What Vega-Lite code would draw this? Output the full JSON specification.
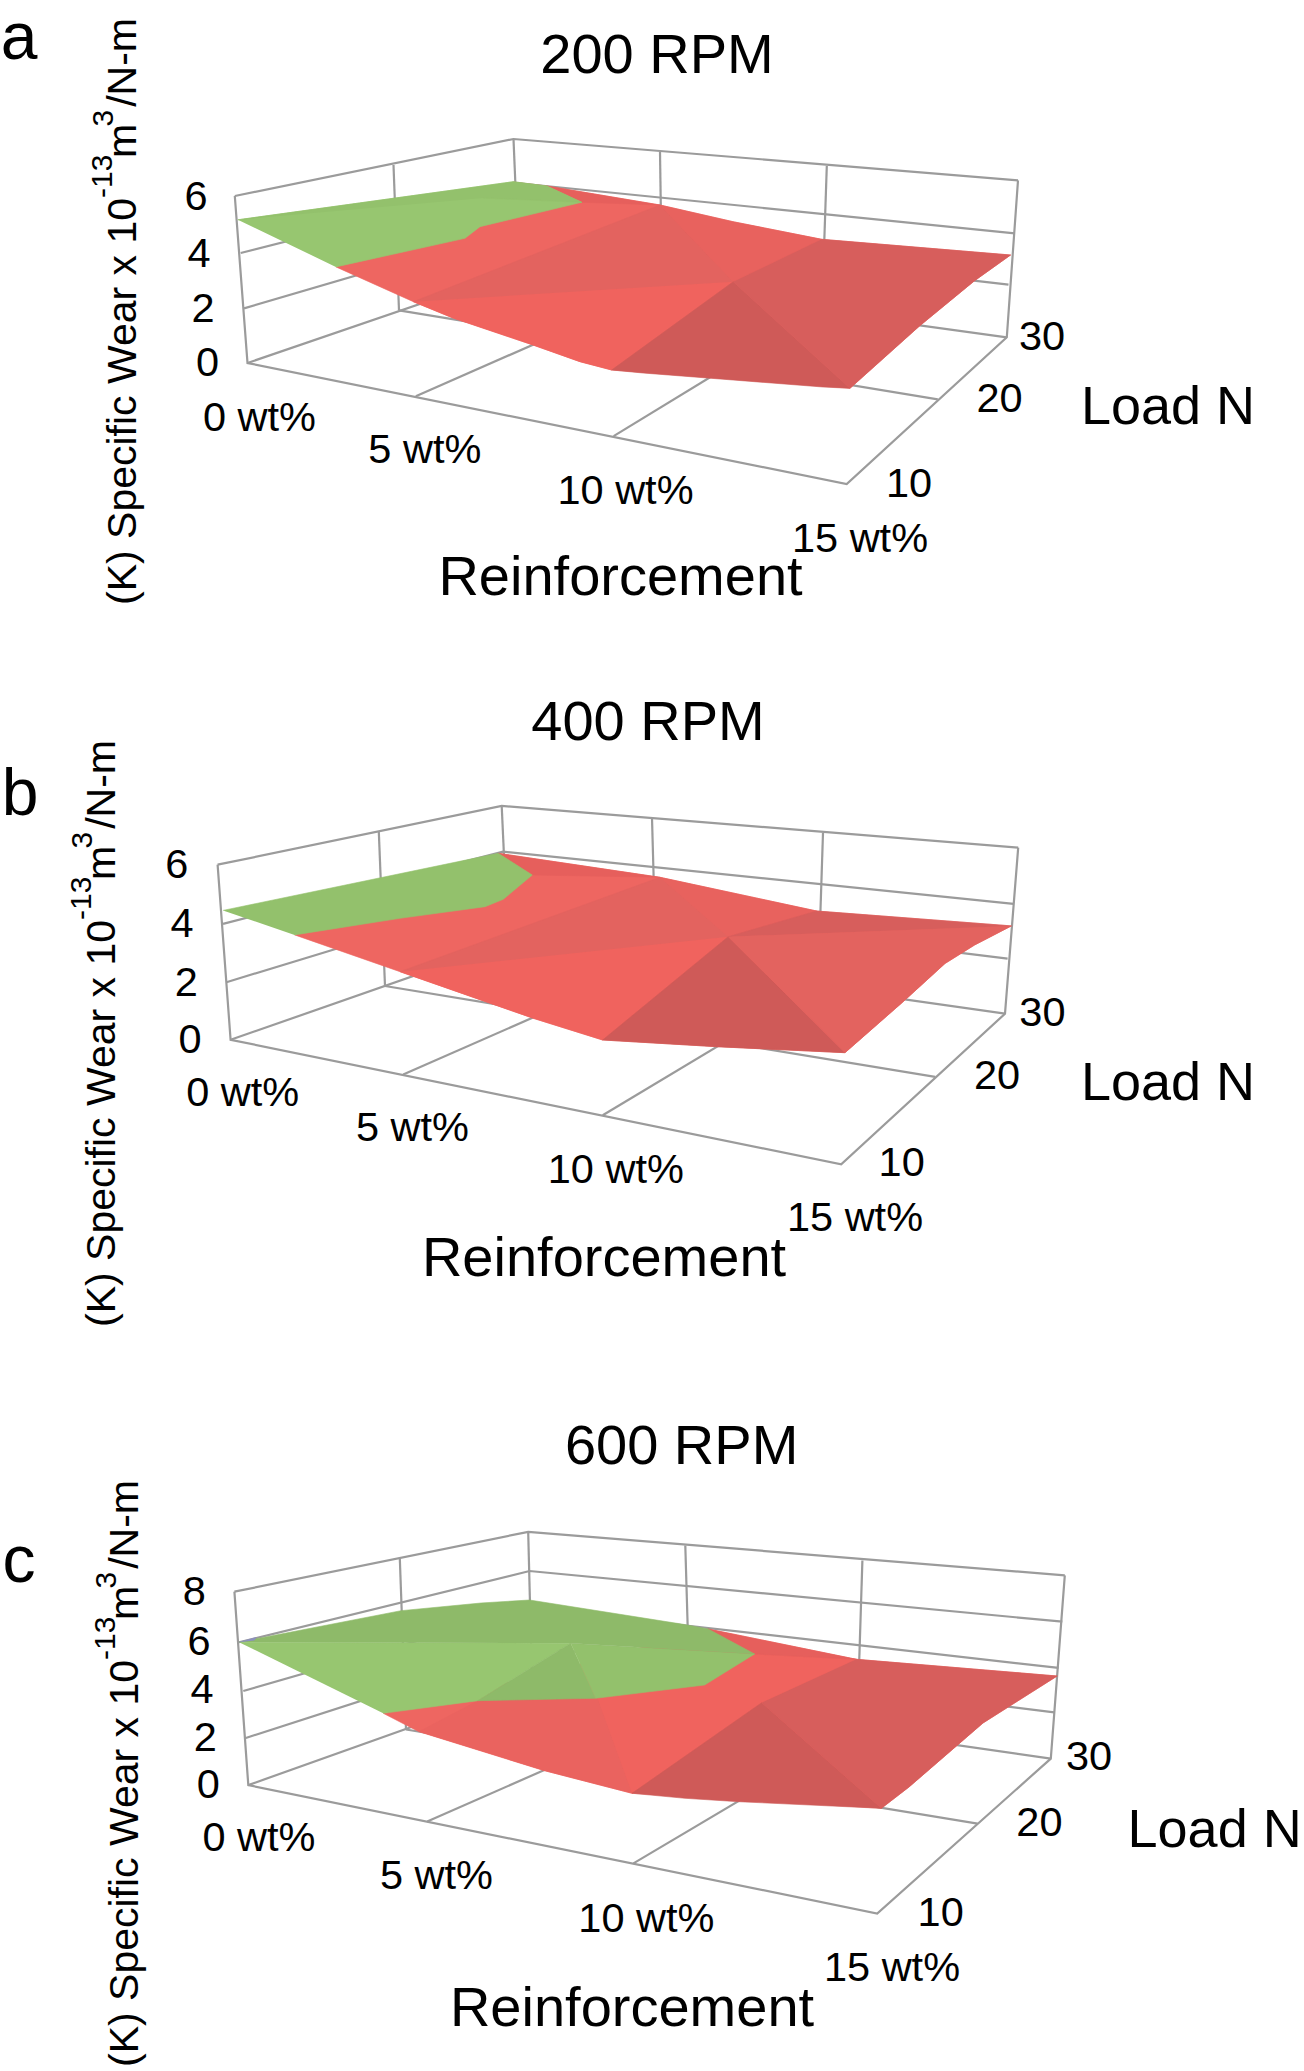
{"$schema":"https://vega.github.io/schema/vega-lite/v6.json","width":1304,"height":2071,"autosize":{"type":"fit","contains":"padding"},"padding":0,"background":"white","config":{"view":{"stroke":null}},
"datasets":{
"grid":[
{"l":"a1","o":1,"x":234.8,"y":196},{"l":"a1","o":2,"x":513.5,"y":139},{"l":"a1","o":3,"x":1018,"y":180.3},
{"l":"a2","o":1,"x":234.8,"y":196},{"l":"a2","o":2,"x":247.5,"y":363},{"l":"a2","o":3,"x":846.7,"y":484},{"l":"a2","o":4,"x":1006.8,"y":337.3},{"l":"a2","o":5,"x":1018,"y":180.3},
{"l":"a3","o":1,"x":513.5,"y":139},{"l":"a3","o":2,"x":519,"y":270},
{"l":"a4","o":1,"x":247.5,"y":363},{"l":"a4","o":2,"x":519,"y":270},{"l":"a4","o":3,"x":1006.8,"y":337.3},
{"l":"a5","o":1,"x":393.5,"y":165},{"l":"a5","o":2,"x":399,"y":310.4},
{"l":"a6","o":1,"x":660,"y":152},{"l":"a6","o":2,"x":662,"y":288},
{"l":"a7","o":1,"x":826.8,"y":166},{"l":"a7","o":2,"x":822,"y":309},
{"l":"a8","o":1,"x":240.7,"y":253},{"l":"a8","o":2,"x":516,"y":183},{"l":"a8","o":3,"x":1014.8,"y":233.3},
{"l":"a9","o":1,"x":244,"y":308.4},{"l":"a9","o":2,"x":518,"y":228},{"l":"a9","o":3,"x":1008.5,"y":284.7},
{"l":"a10","o":1,"x":415.8,"y":396.2},{"l":"a10","o":2,"x":662,"y":288},
{"l":"a11","o":1,"x":613.6,"y":436.1},{"l":"a11","o":2,"x":822,"y":309},
{"l":"a12","o":1,"x":399,"y":310.4},{"l":"a12","o":2,"x":937.8,"y":399.4},
{"l":"b1","o":1,"x":217.6,"y":864.7},{"l":"b1","o":2,"x":501.7,"y":805.9},{"l":"b1","o":3,"x":1018.2,"y":847.6},
{"l":"b2","o":1,"x":217.6,"y":864.7},{"l":"b2","o":2,"x":230.6,"y":1039.8},{"l":"b2","o":3,"x":841.2,"y":1164.3},{"l":"b2","o":4,"x":1005,"y":1013.7},{"l":"b2","o":5,"x":1018.2,"y":847.6},
{"l":"b3","o":1,"x":501.7,"y":805.9},{"l":"b3","o":2,"x":508,"y":943},
{"l":"b4","o":1,"x":230.6,"y":1039.8},{"l":"b4","o":2,"x":508,"y":943},{"l":"b4","o":3,"x":1005,"y":1013.7},
{"l":"b5","o":1,"x":378.8,"y":831.6},{"l":"b5","o":2,"x":385,"y":986},
{"l":"b6","o":1,"x":652,"y":818},{"l":"b6","o":2,"x":656,"y":963.5},
{"l":"b7","o":1,"x":823,"y":832.9},{"l":"b7","o":2,"x":818,"y":986},
{"l":"b8","o":1,"x":223,"y":923.9},{"l":"b8","o":2,"x":503,"y":851.7},{"l":"b8","o":3,"x":1013.6,"y":903.9},
{"l":"b9","o":1,"x":226.4,"y":982.2},{"l":"b9","o":2,"x":506,"y":897},{"l":"b9","o":3,"x":1007.6,"y":958.6},
{"l":"b10","o":1,"x":403.2,"y":1074.5},{"l":"b10","o":2,"x":656,"y":963.5},
{"l":"b11","o":1,"x":602.7,"y":1115.3},{"l":"b11","o":2,"x":818,"y":986},
{"l":"b12","o":1,"x":385,"y":986},{"l":"b12","o":2,"x":935.2,"y":1076.9},
{"l":"c1","o":1,"x":234.4,"y":1591.7},{"l":"c1","o":2,"x":528.2,"y":1531.8},{"l":"c1","o":3,"x":1064.8,"y":1575.4},
{"l":"c2","o":1,"x":234.4,"y":1591.7},{"l":"c2","o":2,"x":248.3,"y":1785.1},{"l":"c2","o":3,"x":877.2,"y":1913.5},{"l":"c2","o":4,"x":1050.8,"y":1758.6},{"l":"c2","o":5,"x":1064.8,"y":1575.4},
{"l":"c3","o":1,"x":528.2,"y":1531.8},{"l":"c3","o":2,"x":532,"y":1684},
{"l":"c4","o":1,"x":248.3,"y":1785.1},{"l":"c4","o":2,"x":532,"y":1684},{"l":"c4","o":3,"x":1050.8,"y":1758.6},
{"l":"c5","o":1,"x":399.8,"y":1558.3},{"l":"c5","o":2,"x":406,"y":1729.5},
{"l":"c6","o":1,"x":685.3,"y":1545.5},{"l":"c6","o":2,"x":690,"y":1706},
{"l":"c7","o":1,"x":862.4,"y":1560.5},{"l":"c7","o":2,"x":857,"y":1731},
{"l":"c8","o":1,"x":239,"y":1642.2},{"l":"c8","o":2,"x":529.5,"y":1571},{"l":"c8","o":3,"x":1062.3,"y":1621.7},
{"l":"c9","o":1,"x":243.3,"y":1691},{"l":"c9","o":2,"x":531,"y":1608},{"l":"c9","o":3,"x":1058.5,"y":1667.9},
{"l":"c10","o":1,"x":245.8,"y":1738},{"l":"c10","o":2,"x":531,"y":1646},{"l":"c10","o":3,"x":1054.2,"y":1712.4},
{"l":"c11","o":1,"x":427.2,"y":1821.5},{"l":"c11","o":2,"x":690,"y":1706},
{"l":"c12","o":1,"x":633.4,"y":1863.4},{"l":"c12","o":2,"x":857,"y":1731},
{"l":"c13","o":1,"x":406,"y":1729.5},{"l":"c13","o":2,"x":977.6,"y":1823.6}
],
"surface":[
{"f":"a01","s":"redBase","o":1,"x":335.9,"y":266.9},{"f":"a01","s":"redBase","o":2,"x":413.3,"y":301.7},{"f":"a01","s":"redBase","o":3,"x":453,"y":318},{"f":"a01","s":"redBase","o":4,"x":533,"y":345},{"f":"a01","s":"redBase","o":5,"x":580,"y":361.7},{"f":"a01","s":"redBase","o":6,"x":611.7,"y":370},{"f":"a01","s":"redBase","o":7,"x":850,"y":388.3},{"f":"a01","s":"redBase","o":8,"x":919.5,"y":326},{"f":"a01","s":"redBase","o":9,"x":974.6,"y":280.7},{"f":"a01","s":"redBase","o":10,"x":1010.6,"y":255},{"f":"a01","s":"redBase","o":11,"x":821.7,"y":239.3},{"f":"a01","s":"redBase","o":12,"x":733,"y":221.7},{"f":"a01","s":"redBase","o":13,"x":660,"y":205},{"f":"a01","s":"redBase","o":14,"x":546.7,"y":186},{"f":"a01","s":"redBase","o":15,"x":513,"y":182},
{"f":"a02","s":"redLight","o":1,"x":413.3,"y":301.7},{"f":"a02","s":"redLight","o":2,"x":453,"y":318},{"f":"a02","s":"redLight","o":3,"x":533,"y":345},{"f":"a02","s":"redLight","o":4,"x":580,"y":361.7},{"f":"a02","s":"redLight","o":5,"x":611.7,"y":370},{"f":"a02","s":"redLight","o":6,"x":733.3,"y":281.7},
{"f":"a03","s":"redMid","o":1,"x":413.3,"y":301.7},{"f":"a03","s":"redMid","o":2,"x":660,"y":205},{"f":"a03","s":"redMid","o":3,"x":733.3,"y":281.7},
{"f":"a04","s":"redUpper","o":1,"x":660,"y":205},{"f":"a04","s":"redUpper","o":2,"x":733,"y":221.7},{"f":"a04","s":"redUpper","o":3,"x":821.7,"y":239.3},{"f":"a04","s":"redUpper","o":4,"x":733.3,"y":281.7},
{"f":"a05","s":"redDarkest","o":1,"x":733.3,"y":281.7},{"f":"a05","s":"redDarkest","o":2,"x":611.7,"y":370},{"f":"a05","s":"redDarkest","o":3,"x":643,"y":373},{"f":"a05","s":"redDarkest","o":4,"x":733,"y":380},{"f":"a05","s":"redDarkest","o":5,"x":823,"y":387},{"f":"a05","s":"redDarkest","o":6,"x":850,"y":388.3},
{"f":"a06","s":"redDark","o":1,"x":733.3,"y":281.7},{"f":"a06","s":"redDark","o":2,"x":850,"y":388.3},{"f":"a06","s":"redDark","o":3,"x":919.5,"y":326},{"f":"a06","s":"redDark","o":4,"x":974.6,"y":280.7},{"f":"a06","s":"redDark","o":5,"x":1010.6,"y":255},{"f":"a06","s":"redDark","o":6,"x":821.7,"y":239.3},
{"f":"a07","s":"redBack","o":1,"x":546.7,"y":186},{"f":"a07","s":"redBack","o":2,"x":660,"y":205},{"f":"a07","s":"redBack","o":3,"x":581.7,"y":202.3},
{"f":"a08","s":"greenLight","o":1,"x":237.8,"y":219.8},{"f":"a08","s":"greenLight","o":2,"x":513.3,"y":181.7},{"f":"a08","s":"greenLight","o":3,"x":546.7,"y":186},{"f":"a08","s":"greenLight","o":4,"x":581.7,"y":202.3},{"f":"a08","s":"greenLight","o":5,"x":480,"y":226.7},{"f":"a08","s":"greenLight","o":6,"x":465,"y":238.3},{"f":"a08","s":"greenLight","o":7,"x":335.9,"y":266.9},
{"f":"a09","s":"greenSoft","o":1,"x":237.8,"y":219.8},{"f":"a09","s":"greenSoft","o":2,"x":513.3,"y":181.7},{"f":"a09","s":"greenSoft","o":3,"x":546.7,"y":186},{"f":"a09","s":"greenSoft","o":4,"x":581.7,"y":202.3},{"f":"a09","s":"greenSoft","o":5,"x":483,"y":198},
{"f":"b01","s":"redBase","o":1,"x":294.6,"y":934.9},{"f":"b01","s":"redBase","o":2,"x":400,"y":971.7},{"f":"b01","s":"redBase","o":3,"x":533.3,"y":1018.3},{"f":"b01","s":"redBase","o":4,"x":602.7,"y":1040},{"f":"b01","s":"redBase","o":5,"x":716.7,"y":1046.7},{"f":"b01","s":"redBase","o":6,"x":845,"y":1052.7},{"f":"b01","s":"redBase","o":7,"x":902.6,"y":1002.2},{"f":"b01","s":"redBase","o":8,"x":945,"y":963.5},{"f":"b01","s":"redBase","o":9,"x":974.6,"y":945},{"f":"b01","s":"redBase","o":10,"x":1011.4,"y":925.9},{"f":"b01","s":"redBase","o":11,"x":816.7,"y":911},{"f":"b01","s":"redBase","o":12,"x":660,"y":877.3},{"f":"b01","s":"redBase","o":13,"x":498.3,"y":853.3},
{"f":"b02","s":"redLight","o":1,"x":400,"y":971.7},{"f":"b02","s":"redLight","o":2,"x":533.3,"y":1018.3},{"f":"b02","s":"redLight","o":3,"x":602.7,"y":1040},{"f":"b02","s":"redLight","o":4,"x":728.3,"y":936.7},
{"f":"b03","s":"redMid","o":1,"x":400,"y":971.7},{"f":"b03","s":"redMid","o":2,"x":660,"y":877.3},{"f":"b03","s":"redMid","o":3,"x":728.3,"y":936.7},
{"f":"b04","s":"redUpper","o":1,"x":660,"y":877.3},{"f":"b04","s":"redUpper","o":2,"x":816.7,"y":911},{"f":"b04","s":"redUpper","o":3,"x":728.3,"y":936.7},
{"f":"b05","s":"redDarkest","o":1,"x":728.3,"y":936.7},{"f":"b05","s":"redDarkest","o":2,"x":602.7,"y":1040},{"f":"b05","s":"redDarkest","o":3,"x":716.7,"y":1046.7},{"f":"b05","s":"redDarkest","o":4,"x":845,"y":1052.7},
{"f":"b06","s":"redMid","o":1,"x":728.3,"y":936.7},{"f":"b06","s":"redMid","o":2,"x":845,"y":1052.7},{"f":"b06","s":"redMid","o":3,"x":902.6,"y":1002.2},{"f":"b06","s":"redMid","o":4,"x":945,"y":963.5},{"f":"b06","s":"redMid","o":5,"x":974.6,"y":945},{"f":"b06","s":"redMid","o":6,"x":1011.4,"y":925.9},
{"f":"b07","s":"redDark","o":1,"x":728.3,"y":936.7},{"f":"b07","s":"redDark","o":2,"x":816.7,"y":911},{"f":"b07","s":"redDark","o":3,"x":1011.4,"y":925.9},
{"f":"b08","s":"redBack","o":1,"x":498.3,"y":853.3},{"f":"b08","s":"redBack","o":2,"x":660,"y":877.3},{"f":"b08","s":"redBack","o":3,"x":532.3,"y":875},
{"f":"b09","s":"greenMid","o":1,"x":223,"y":910.4},{"f":"b09","s":"greenMid","o":2,"x":498.3,"y":853.3},{"f":"b09","s":"greenMid","o":3,"x":532.3,"y":875},{"f":"b09","s":"greenMid","o":4,"x":518.3,"y":886.7},{"f":"b09","s":"greenMid","o":5,"x":503.3,"y":899.3},{"f":"b09","s":"greenMid","o":6,"x":485,"y":906.7},{"f":"b09","s":"greenMid","o":7,"x":400,"y":918.3},{"f":"b09","s":"greenMid","o":8,"x":294.6,"y":934.9},
{"f":"c01","s":"redBase","o":1,"x":383.2,"y":1713.3},{"f":"c01","s":"redBase","o":2,"x":418.9,"y":1731.7},{"f":"c01","s":"redBase","o":3,"x":542,"y":1770},{"f":"c01","s":"redBase","o":4,"x":632.1,"y":1793.3},{"f":"c01","s":"redBase","o":5,"x":881.4,"y":1808.3},{"f":"c01","s":"redBase","o":6,"x":909,"y":1787},{"f":"c01","s":"redBase","o":7,"x":983,"y":1723},{"f":"c01","s":"redBase","o":8,"x":1057.2,"y":1676},{"f":"c01","s":"redBase","o":9,"x":856.4,"y":1659.3},{"f":"c01","s":"redBase","o":10,"x":708.2,"y":1629},{"f":"c01","s":"redBase","o":11,"x":595.7,"y":1660},
{"f":"c02","s":"redSoft","o":1,"x":418.9,"y":1731.7},{"f":"c02","s":"redSoft","o":2,"x":477.9,"y":1700.7},{"f":"c02","s":"redSoft","o":3,"x":597.5,"y":1698},{"f":"c02","s":"redSoft","o":4,"x":632.1,"y":1793.3},{"f":"c02","s":"redSoft","o":5,"x":542,"y":1770},
{"f":"c03","s":"redLight","o":1,"x":597.5,"y":1698},{"f":"c03","s":"redLight","o":2,"x":704.6,"y":1685},{"f":"c03","s":"redLight","o":3,"x":754.6,"y":1654},{"f":"c03","s":"redLight","o":4,"x":856.4,"y":1659.3},{"f":"c03","s":"redLight","o":5,"x":761.8,"y":1702.7},{"f":"c03","s":"redLight","o":6,"x":632.1,"y":1793.3},
{"f":"c04","s":"redBack","o":1,"x":708.2,"y":1629},{"f":"c04","s":"redBack","o":2,"x":856.4,"y":1659.3},{"f":"c04","s":"redBack","o":3,"x":754.6,"y":1654},
{"f":"c05","s":"redDarkest","o":1,"x":761.8,"y":1702.7},{"f":"c05","s":"redDarkest","o":2,"x":632.1,"y":1793.3},{"f":"c05","s":"redDarkest","o":3,"x":685,"y":1798.3},{"f":"c05","s":"redDarkest","o":4,"x":738.6,"y":1801.7},{"f":"c05","s":"redDarkest","o":5,"x":881.4,"y":1808.3},
{"f":"c06","s":"redDark","o":1,"x":761.8,"y":1702.7},{"f":"c06","s":"redDark","o":2,"x":881.4,"y":1808.3},{"f":"c06","s":"redDark","o":3,"x":909,"y":1787},{"f":"c06","s":"redDark","o":4,"x":983,"y":1723},{"f":"c06","s":"redDark","o":5,"x":1057.2,"y":1676},{"f":"c06","s":"redDark","o":6,"x":856.4,"y":1659.3},
{"f":"c07","s":"greenLight","o":1,"x":239,"y":1642.2},{"f":"c07","s":"greenLight","o":2,"x":570.7,"y":1643.3},{"f":"c07","s":"greenLight","o":3,"x":477.9,"y":1700.7},{"f":"c07","s":"greenLight","o":4,"x":383.2,"y":1713.3},
{"f":"c08","s":"greenDark","o":1,"x":570.7,"y":1643.3},{"f":"c08","s":"greenDark","o":2,"x":477.9,"y":1700.7},{"f":"c08","s":"greenDark","o":3,"x":595.7,"y":1698.3},
{"f":"c09","s":"greenMid","o":1,"x":570.7,"y":1643.3},{"f":"c09","s":"greenMid","o":2,"x":595.7,"y":1698.3},{"f":"c09","s":"greenMid","o":3,"x":704.6,"y":1685},{"f":"c09","s":"greenMid","o":4,"x":754.6,"y":1654},
{"f":"c10","s":"greenDark","o":1,"x":239,"y":1642.2},{"f":"c10","s":"greenDark","o":2,"x":401,"y":1610.7},{"f":"c10","s":"greenDark","o":3,"x":481,"y":1603},{"f":"c10","s":"greenDark","o":4,"x":529.6,"y":1600},{"f":"c10","s":"greenDark","o":5,"x":683.2,"y":1624.3},{"f":"c10","s":"greenDark","o":6,"x":708.2,"y":1629},{"f":"c10","s":"greenDark","o":7,"x":754.6,"y":1654},{"f":"c10","s":"greenDark","o":8,"x":570.7,"y":1643.3},
{"f":"c11","s":"purple","o":1,"x":239,"y":1642.2},{"f":"c11","s":"purple","o":2,"x":256,"y":1637.5},{"f":"c11","s":"purple","o":3,"x":254,"y":1640.5}
],
"letters":[{"t":"a","x":19,"y":59},{"t":"b","x":20,"y":814.5},{"t":"c","x":19,"y":1582}],
"titles":[{"t":"200 RPM","x":657,"y":73},{"t":"400 RPM","x":648,"y":740},{"t":"600 RPM","x":681.6,"y":1464},{"t":"Reinforcement","x":620.5,"y":595},{"t":"Reinforcement","x":604,"y":1275.7},{"t":"Reinforcement","x":632,"y":2025.6}],
"loads":[{"t":"Load N","x":1168,"y":424},{"t":"Load N","x":1168,"y":1100},{"t":"Load N","x":1214.6,"y":1847}],
"ticks":[
{"t":"6","x":196,"y":210},{"t":"4","x":199,"y":267},{"t":"2","x":203,"y":322},{"t":"0","x":207.5,"y":375.6},{"t":"0 wt%","x":259.5,"y":431},{"t":"5 wt%","x":424.8,"y":463.4},{"t":"10 wt%","x":625.5,"y":504},{"t":"15 wt%","x":860,"y":552},{"t":"30","x":1042,"y":350},{"t":"20","x":999.6,"y":412},{"t":"10","x":909,"y":497},
{"t":"6","x":176.8,"y":877.8},{"t":"4","x":182,"y":937},{"t":"2","x":186.4,"y":996},{"t":"0","x":190,"y":1053},{"t":"0 wt%","x":242.7,"y":1106},{"t":"5 wt%","x":412.5,"y":1141},{"t":"10 wt%","x":615.8,"y":1183},{"t":"15 wt%","x":855,"y":1231},{"t":"30","x":1042.4,"y":1025.5},{"t":"20","x":997,"y":1089},{"t":"10","x":901.7,"y":1175.7},
{"t":"8","x":194.4,"y":1605.4},{"t":"6","x":199,"y":1654.6},{"t":"4","x":202,"y":1703},{"t":"2","x":205.4,"y":1751},{"t":"0","x":208.3,"y":1798},{"t":"0 wt%","x":259,"y":1851.4},{"t":"5 wt%","x":436.5,"y":1888.7},{"t":"10 wt%","x":646.4,"y":1932},{"t":"15 wt%","x":892,"y":1980.7},{"t":"30","x":1089,"y":1770},{"t":"20","x":1039.4,"y":1835.6},{"t":"10","x":940.7,"y":1926.3}
],
"ymain":[
{"t":"(K) Specific Wear x 10","x":135.5,"y":605},{"t":"m","x":135.5,"y":158},{"t":"/N-m","x":135.5,"y":106.8},
{"t":"(K) Specific Wear x 10","x":114.5,"y":1327},{"t":"m","x":114.5,"y":880},{"t":"/N-m","x":114.5,"y":828.8},
{"t":"(K) Specific Wear x 10","x":138,"y":2067},{"t":"m","x":138,"y":1620},{"t":"/N-m","x":138,"y":1568.8}
],
"ysuper":[
{"t":"-13","x":112,"y":198},{"t":"3","x":113,"y":126.5},
{"t":"-13","x":91,"y":920},{"t":"3","x":92,"y":848.5},
{"t":"-13","x":114.5,"y":1660},{"t":"3","x":115.5,"y":1588.5}
]},
"encoding":{
"x":{"field":"x","type":"quantitative","axis":null,"scale":{"domain":[0,1304],"nice":false,"zero":false}},
"y":{"field":"y","type":"quantitative","axis":null,"scale":{"domain":[2071,0],"nice":false,"zero":false}}
},
"layer":[
{"data":{"name":"grid"},"mark":{"type":"line","stroke":"#9b9b9b","strokeWidth":2.2,"strokeJoin":"miter"},"encoding":{"detail":{"field":"l"},"order":{"field":"o","type":"quantitative"}}},
{"data":{"name":"surface"},"mark":{"type":"line","strokeWidth":0.6,"strokeJoin":"round"},"encoding":{"detail":{"field":"f"},"order":{"field":"o","type":"quantitative"},
"fill":{"field":"s","type":"nominal","legend":null,"scale":{"domain":["redBase","redLight","redSoft","redMid","redUpper","redBack","redDark","redDarkest","greenLight","greenSoft","greenMid","greenDark","purple"],"range":["#EE6661","#F0635E","#EA635F","#E3635F","#E8625E","#E65F5C","#D75E5C","#CF5A58","#97C670","#93C16C","#93C16C","#8EBA69","#8B8FC0"]}},
"stroke":{"field":"s","type":"nominal","legend":null,"scale":{"domain":["redBase","redLight","redSoft","redMid","redUpper","redBack","redDark","redDarkest","greenLight","greenSoft","greenMid","greenDark","purple"],"range":["#EE6661","#F0635E","#EA635F","#E3635F","#E8625E","#E65F5C","#D75E5C","#CF5A58","#97C670","#93C16C","#93C16C","#8EBA69","#8B8FC0"]}}}},
{"data":{"name":"letters"},"mark":{"type":"text","font":"Liberation Sans","fontSize":66,"align":"center","baseline":"alphabetic","color":"#000"},"encoding":{"text":{"field":"t"}}},
{"data":{"name":"titles"},"mark":{"type":"text","font":"Liberation Sans","fontSize":56,"align":"center","baseline":"alphabetic","color":"#000"},"encoding":{"text":{"field":"t"}}},
{"data":{"name":"loads"},"mark":{"type":"text","font":"Liberation Sans","fontSize":54,"align":"center","baseline":"alphabetic","color":"#000"},"encoding":{"text":{"field":"t"}}},
{"data":{"name":"ticks"},"mark":{"type":"text","font":"Liberation Sans","fontSize":41.5,"align":"center","baseline":"alphabetic","color":"#000"},"encoding":{"text":{"field":"t"}}},
{"data":{"name":"ymain"},"mark":{"type":"text","font":"Liberation Sans","fontSize":41,"angle":270,"align":"left","baseline":"alphabetic","color":"#000"},"encoding":{"text":{"field":"t"}}},
{"data":{"name":"ysuper"},"mark":{"type":"text","font":"Liberation Sans","fontSize":30,"angle":270,"align":"left","baseline":"alphabetic","color":"#000"},"encoding":{"text":{"field":"t"}}}
]}
